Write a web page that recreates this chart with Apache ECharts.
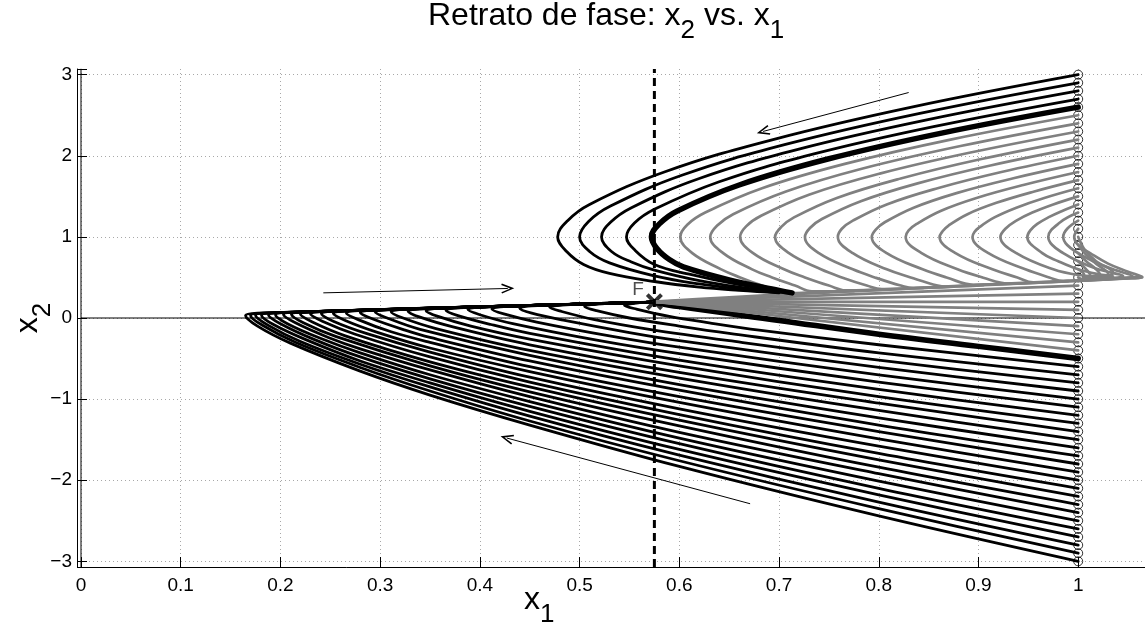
<!DOCTYPE html>
<html>
<head>
<meta charset="utf-8">
<script src="https://cdn.jsdelivr.net/npm/echarts@6/dist/echarts.min.js"></script>
<style>
  html, body { margin: 0; padding: 0; background: #fff; }
  #chart { width: 1145px; height: 631px; }
</style>
</head>
<body>
<div id="chart"></div>
<script>
// initial conditions x2(0) on the line x1 = 1
const startX2 = [-3, -2.9, -2.8, -2.7, -2.6, -2.5, -2.4, -2.3, -2.2, -2.1, -2, -1.9, -1.8, -1.7, -1.6,
  -1.5, -1.4, -1.3, -1.2, -1.1, -1, -0.9, -0.8, -0.7, -0.6, -0.5, -0.4, -0.3, -0.2, -0.1, 0,
  0.1, 0.2, 0.3, 0.4, 0.5, 0.6, 0.7, 0.8, 0.9, 1, 1.1, 1.2, 1.3, 1.4, 1.5, 1.6, 1.7, 1.8, 1.9,
  2, 2.1, 2.2, 2.3, 2.4, 2.5, 2.6, 2.7, 2.8, 2.9, 3];

const fixedPoint = [0.575, 0.2];

// lower black trajectories (x2(0) = -3.0 ... -0.6)
const lowerBlack = [
  [[1,-3],[.8,-2.44],[.6,-1.83],[.45,-1.32],[.35,-.95],[.28,-.655],[.21,-.31],[.177,-.10],[.165,.03],[.177,.059],[.575,.195]],
  [[1,-2.9],[.8,-2.35],[.6,-1.76],[.45,-1.27],[.35,-.90],[.28,-.61],[.215,-.30],[.182,-.09],[.170,.032],[.182,.061],[.575,.195]],
  [[1,-2.8],[.8,-2.27],[.6,-1.69],[.45,-1.21],[.35,-.85],[.28,-.57],[.22,-.29],[.187,-.085],[.175,.033],[.187,.062],[.575,.195]],
  [[1,-2.7],[.8,-2.18],[.6,-1.62],[.45,-1.15],[.35,-.80],[.28,-.53],[.226,-.27],[.193,-.08],[.181,.035],[.193,.064],[.575,.195]],
  [[1,-2.6],[.8,-2.10],[.6,-1.55],[.45,-1.09],[.35,-.75],[.28,-.48],[.233,-.26],[.200,-.07],[.188,.038],[.200,.067],[.575,.195]],
  [[1,-2.5],[.8,-2.01],[.6,-1.48],[.45,-1.03],[.35,-.70],[.28,-.43],[.24,-.25],[.207,-.07],[.195,.040],[.207,.069],[.575,.195]],
  [[1,-2.4],[.8,-1.92],[.6,-1.41],[.45,-.97],[.35,-.64],[.28,-.38],[.248,-.24],[.215,-.06],[.203,.0425],[.215,.0715],[.575,.195]],
  [[1,-2.3],[.8,-1.84],[.6,-1.33],[.45,-.91],[.35,-.59],[.256,-.23],[.223,-.06],[.211,.045],[.223,.074],[.575,.195]],
  [[1,-2.2],[.8,-1.75],[.6,-1.26],[.45,-.85],[.35,-.54],[.265,-.22],[.232,-.05],[.220,.048],[.232,.077],[.575,.195]],
  [[1,-2.1],[.8,-1.67],[.6,-1.19],[.45,-.79],[.35,-.48],[.275,-.20],[.242,-.04],[.230,.0515],[.242,.080],[.575,.195]],
  [[1,-2.0],[.8,-1.58],[.6,-1.12],[.45,-.73],[.35,-.42],[.286,-.19],[.253,-.04],[.241,.055],[.253,.084],[.575,.195]],
  [[1,-1.9],[.8,-1.49],[.6,-1.04],[.45,-.66],[.35,-.37],[.298,-.18],[.265,-.03],[.253,.059],[.265,.088],[.575,.195]],
  [[1,-1.8],[.8,-1.40],[.6,-.97],[.45,-.60],[.35,-.30],[.311,-.17],[.278,-.02],[.266,.063],[.278,.092],[.575,.195]],
  [[1,-1.7],[.8,-1.32],[.6,-.89],[.45,-.53],[.35,-.24],[.325,-.15],[.292,-.01],[.280,.068],[.292,.097],[.575,.195]],
  [[1,-1.6],[.8,-1.23],[.6,-.82],[.45,-.46],[.34,-.14],[.307,.00],[.295,.073],[.307,.102],[.575,.195]],
  [[1,-1.5],[.8,-1.14],[.6,-.74],[.45,-.40],[.356,-.13],[.323,.00],[.311,.078],[.323,.107],[.575,.195]],
  [[1,-1.4],[.8,-1.05],[.6,-.67],[.45,-.33],[.373,-.11],[.340,.01],[.328,.084],[.340,.113],[.575,.195]],
  [[1,-1.3],[.8,-.97],[.6,-.59],[.45,-.26],[.391,-.10],[.358,.02],[.346,.090],[.358,.119],[.575,.195]],
  [[1,-1.2],[.8,-.88],[.6,-.52],[.45,-.19],[.411,-.08],[.378,.03],[.366,.096],[.378,.125],[.575,.195]],
  [[1,-1.1],[.8,-.79],[.6,-.44],[.52,-.28],[.433,-.07],[.400,.04],[.388,.1035],[.400,.133],[.575,.195]],
  [[1,-1.0],[.8,-.70],[.6,-.36],[.53,-.22],[.457,-.05],[.424,.05],[.412,.1115],[.424,.1405],[.575,.195]],
  [[1,-.9],[.8,-.61],[.6,-.28],[.55,-.18],[.485,-.03],[.452,.06],[.440,.121],[.452,.150],[.575,.195]],
  [[1,-.8],[.8,-.52],[.65,-.28],[.57,-.14],[.515,-.02],[.482,.08],[.470,.131],[.482,.160],[.575,.195]],
  [[1,-.7],[.8,-.43],[.65,-.19],[.60,-.10],[.55,.00],[.517,.09],[.505,.142],[.517,.171],[.575,.195]],
  [[1,-.6],[.8,-.33],[.68,-.15],[.63,-.06],[.59,.02],[.557,.11],[.545,.1555],[.557,.184],[.575,.195]]
];

// thick separatrix reaching F from below (x2(0) = -0.5)
const separatrixLow = [[.575,.195],[.6,.14],[.7,-.03],[.8,-.2],[.9,-.35],[1,-.5]];

// grey straight trajectories from F (x2(0) = 0.4 ... -0.4)
const fanEnds = [0.4, 0.3, 0.2, 0.1, 0, -0.1, -0.2, -0.3, -0.4];

// grey spine from the nose back to F
const spine = [[1.064,.505],[1.03,.48],[1.0,.462],[.9,.405],[.8,.347],[.72,.30],[.65,.252],[.575,.2]];

// grey nose trajectories (x2(0) = 0.5 ... 1.5)
const noseGray = [
  [[1,.5],[1.003,.475],[1,.462]],
  [[1,.6],[1.006,.53],[1.004,.48],[1,.462]],
  [[1,.7],[1.008,.6],[1.012,.53],[1.005,.48],[1,.462]],
  [[1,.8],[1.008,.7],[1.018,.6],[1.022,.53],[1.01,.485],[1,.462]],
  [[1,.9],[1.008,.78],[1.02,.65],[1.03,.55],[1.015,.49],[1,.462]],
  [[1,1.0],[1.006,.85],[1.018,.7],[1.035,.56],[1.02,.49],[1,.462]],
  [[1,1.1],[.996,1],[1.0,.9],[1.012,.8],[1.03,.67],[1.05,.57],[1.064,.505],[1.045,.485],[1.0,.462]],
  [[1,1.2],[.989,1.1],[.985,1],[.989,.9],[1.0,.8],[1.015,.7],[1.035,.6],[1.055,.51],[1.035,.485],[1.0,.462]],
  [[1,1.3],[.982,1.18],[.970,1],[.974,.9],[.985,.8],[1.0,.7],[1.02,.6],[1.045,.515],[1.025,.485],[1.0,.462]],
  [[1,1.4],[.984,1.32],[.970,1.24],[.959,1.16],[.952,1.08],[.949,1],[.964,.8],[.98,.7],[1.0,.6],[1.02,.54],[1.035,.515],[1.02,.488],[1.0,.462]],
  [[1,1.5],[.975,1.4],[.954,1.3],[.938,1.2],[.927,1.1],[.922,1],[.938,.8],[.975,.6],[1.0,.53],[1.025,.51],[1.012,.49],[1.0,.462]]
];

// grey upper trajectories (x2(0) = 1.6 ... 2.5)
const upperGray = [
  [[1,1.6],[.966,1.48],[.938,1.36],[.916,1.24],[.901,1.12],[.896,1.06],[.894,1],[.910,.8],[.947,.6],[.971,.5],[.985,.455],[1.0,.46]],
  [[1,1.7],[.956,1.56],[.918,1.42],[.889,1.28],[.870,1.14],[.864,1.07],[.861,1],[.877,.8],[.914,.6],[.939,.5],[.955,.44],[.99,.455]],
  [[1,1.8],[.945,1.64],[.898,1.48],[.862,1.32],[.838,1.16],[.830,1.08],[.827,1],[.843,.8],[.879,.6],[.904,.5],[.93,.425],[.965,.44]],
  [[1,1.9],[.934,1.72],[.878,1.54],[.835,1.36],[.806,1.18],[.797,1.09],[.793,1],[.808,.8],[.844,.6],[.868,.5],[.895,.41],[.935,.423]],
  [[1,2.0],[.923,1.8],[.859,1.6],[.808,1.4],[.774,1.2],[.763,1.1],[.759,1],[.774,.8],[.808,.6],[.832,.5],[.859,.40],[.868,.388],[.905,.406]],
  [[1,2.1],[.912,1.88],[.839,1.66],[.782,1.44],[.743,1.22],[.731,1.11],[.726,1],[.740,.8],[.774,.6],[.796,.5],[.822,.4],[.835,.37],[.875,.388]],
  [[1,2.2],[.903,1.96],[.822,1.72],[.758,1.48],[.715,1.24],[.702,1.12],[.696,1],[.710,.8],[.742,.6],[.763,.5],[.788,.4],[.803,.355],[.845,.372]],
  [[1,2.3],[.892,2.04],[.801,1.78],[.730,1.52],[.682,1.26],[.667,1.13],[.661,1],[.674,.8],[.705,.6],[.726,.5],[.750,.4],[.768,.34],[.81,.352]],
  [[1,2.4],[.882,2.12],[.783,1.84],[.707,1.56],[.654,1.28],[.638,1.14],[.631,1],[.644,.8],[.673,.6],[.693,.5],[.716,.4],[.733,.33],[.775,.33]],
  [[1,2.5],[.872,2.2],[.766,1.9],[.683,1.6],[.626,1.3],[.608,1.15],[.601,1],[.613,.8],[.642,.6],[.661,.5],[.683,.4],[.708,.305],[.75,.318]]
];

// upper black trajectories (x2(0) = 2.7 ... 3.0)
const upperBlack = [
  [[1,2.7],[.855,2.36],[.734,2.02],[.640,1.68],[.575,1.34],[.555,1.17],[.547,1],[.556,.83],[.575,.66],[.61,.54],[.66,.41],[.71,.315]],
  [[1,2.8],[.847,2.44],[.719,2.08],[.620,1.72],[.552,1.36],[.531,1.18],[.522,1],[.532,.82],[.552,.69],[.575,.59],[.62,.46],[.66,.38],[.705,.315]],
  [[1,2.9],[.840,2.52],[.7065,2.14],[.6025,1.76],[.531,1.38],[.509,1.19],[.5,1],[.51,.82],[.53,.68],[.575,.52],[.62,.42],[.66,.36],[.70,.315]],
  [[1,3],[.833,2.6],[.694,2.2],[.585,1.8],[.510,1.4],[.488,1.2],[.478,1],[.487,.82],[.504,.66],[.53,.55],[.575,.45],[.62,.38],[.66,.34],[.70,.31]]
];

// thick separatrix from above (x2(0) = 2.6)
const separatrixHigh = [[1,2.6],[.863,2.28],[.749,1.96],[.660,1.64],[.598,1.32],[.580,1.16],[.572,1],
  [.578,.85],[.59,.72],[.604,.63],[.65,.47],[.70,.34],[.713,.31]];

// annotation arrows [from, to]
const arrows = [
  [[0.830, 2.78], [0.684, 2.30]],
  [[0.243, 0.31], [0.428, 0.364]],
  [[0.671, -2.29], [0.427, -1.48]]
];

const X_MAX = 1.067, Y_MIN = -3.07, Y_MAX = 3.07;
const FONT = '"Liberation Sans", Arial, Helvetica, sans-serif';
const GRAY = '#808080';

const chart = echarts.init(document.getElementById('chart'));

const series = [];
const addCurve = (pts, color, width, smooth) => series.push({
  type: 'line', data: pts, symbol: 'none', smooth: smooth, silent: true,
  lineStyle: { color: color, width: width, cap: 'round', join: 'round' }
});

// reference lines x2 = 0 and x1 = 0, plus arrows
series.push({
  type: 'line', data: [[0, 0], [X_MAX, 0]], symbol: 'none', silent: true,
  lineStyle: { color: '#000', width: 1.2 },
  markLine: {
    silent: true, animation: false,
    symbol: ['none', 'path://M5,0 L10,11 L8.6,11.6 L5,3.6 L1.4,11.6 L0,11 Z'],
    symbolSize: [10, 13],
    label: { show: false },
    lineStyle: { color: '#000', width: 1, type: 'solid' },
    data: arrows.map(a => [{ coord: a[0] }, { coord: a[1] }])
  }
});
addCurve([[0, Y_MIN], [0, Y_MAX]], '#000', 1, false);

lowerBlack.forEach(c => addCurve(c, '#000', 2.8, 0.35));
addCurve(separatrixLow, '#000', 5.5, 0.4);
fanEnds.forEach(v => addCurve([fixedPoint, [1, v]], GRAY, 2.7, false));
addCurve(spine, GRAY, 3.2, 0.3);
noseGray.forEach(c => addCurve(c, GRAY, 2.7, 0.4));
upperGray.forEach(c => addCurve(c, GRAY, 2.7, 0.4));
upperBlack.forEach(c => addCurve(c, '#000', 2.8, 0.4));
addCurve(separatrixHigh, '#000', 5.5, 0.4);

// vertical dashed line through F
series.push({
  type: 'line', data: [[fixedPoint[0], Y_MIN], [fixedPoint[0], Y_MAX]], symbol: 'none', silent: true,
  lineStyle: { color: '#000', width: 3, type: [8, 5] }
});

// initial points
series.push({
  type: 'scatter', data: startX2.map(v => [1, v]), symbol: 'circle', symbolSize: 9, silent: true,
  itemStyle: { color: 'rgba(0,0,0,0)', borderColor: '#000', borderWidth: 1 }
});

// point F
series.push({
  type: 'scatter', data: [fixedPoint], silent: true,
  symbol: 'path://M0,2.6 L2.6,0 L8,5.4 L13.4,0 L16,2.6 L10.6,8 L16,13.4 L13.4,16 L8,10.6 L2.6,16 L0,13.4 L5.4,8 Z',
  symbolSize: 17,
  itemStyle: { color: '#000' },
  label: { show: true, formatter: 'F', position: 'left', distance: 2, offset: [0, -12],
    fontSize: 19, color: '#222', fontFamily: FONT }
});

const rich = {
  m: { fontSize: 32, lineHeight: 44, verticalAlign: 'top', fontWeight: 'normal', fontFamily: FONT, color: '#000' },
  s: { fontSize: 26, lineHeight: 4, verticalAlign: 'bottom', fontWeight: 'normal', fontFamily: FONT, color: '#000' }
};
const dotted = { color: '#a8a8a8', width: 1, type: [1, 3] };
const minus = v => (v < 0 ? '\u2212' + String(-v) : String(v));

chart.setOption({
  animation: false,
  backgroundColor: '#fff',
  title: [
    { text: '{m|Retrato de fase: x}{s|2}{m| vs. x}{s|1}', left: 428, top: 0, padding: 0,
      textStyle: { fontWeight: 'normal', rich: rich } },
    { text: '{m|x}{s|1}', left: 524, top: 584, padding: 0, textStyle: { fontWeight: 'normal', rich: rich } }
  ],
  grid: { left: 81, right: 0, top: 69, bottom: 64, outerBoundsMode: 'none', containLabel: false },
  xAxis: {
    type: 'value', min: 0, max: X_MAX, interval: 0.1,
    axisLine: { onZero: false, lineStyle: { color: '#000', width: 1 } },
    axisTick: { inside: true, length: 10, lineStyle: { color: '#000' } },
    axisLabel: { margin: 9, fontSize: 19, color: '#000', fontFamily: FONT,
      formatter: v => (v > 1.001 ? '' : String(+v.toFixed(1))) },
    splitLine: { show: true, showMaxLine: false, lineStyle: dotted }
  },
  yAxis: {
    type: 'value', min: Y_MIN, max: Y_MAX, splitNumber: 6, offset: 4,
    axisLine: { show: true, onZero: false, lineStyle: { color: '#000', width: 1 } },
    axisTick: { show: true, inside: true, length: 10, lineStyle: { color: '#000' } },
    axisLabel: { margin: 5, fontSize: 19, color: '#000', fontFamily: FONT,
      formatter: v => (Math.abs(v - Math.round(v)) < 1e-6 ? minus(Math.round(v)) : '') },
    splitLine: { show: true, showMaxLine: false, lineStyle: dotted },
    name: '{m|x}{s|2}', nameLocation: 'middle', nameRotate: 90, nameGap: 21, nameMoveOverlap: false,
    nameTextStyle: { fontWeight: 'normal', rich: rich }
  },
  series: series
});
</script>
</body>
</html>
